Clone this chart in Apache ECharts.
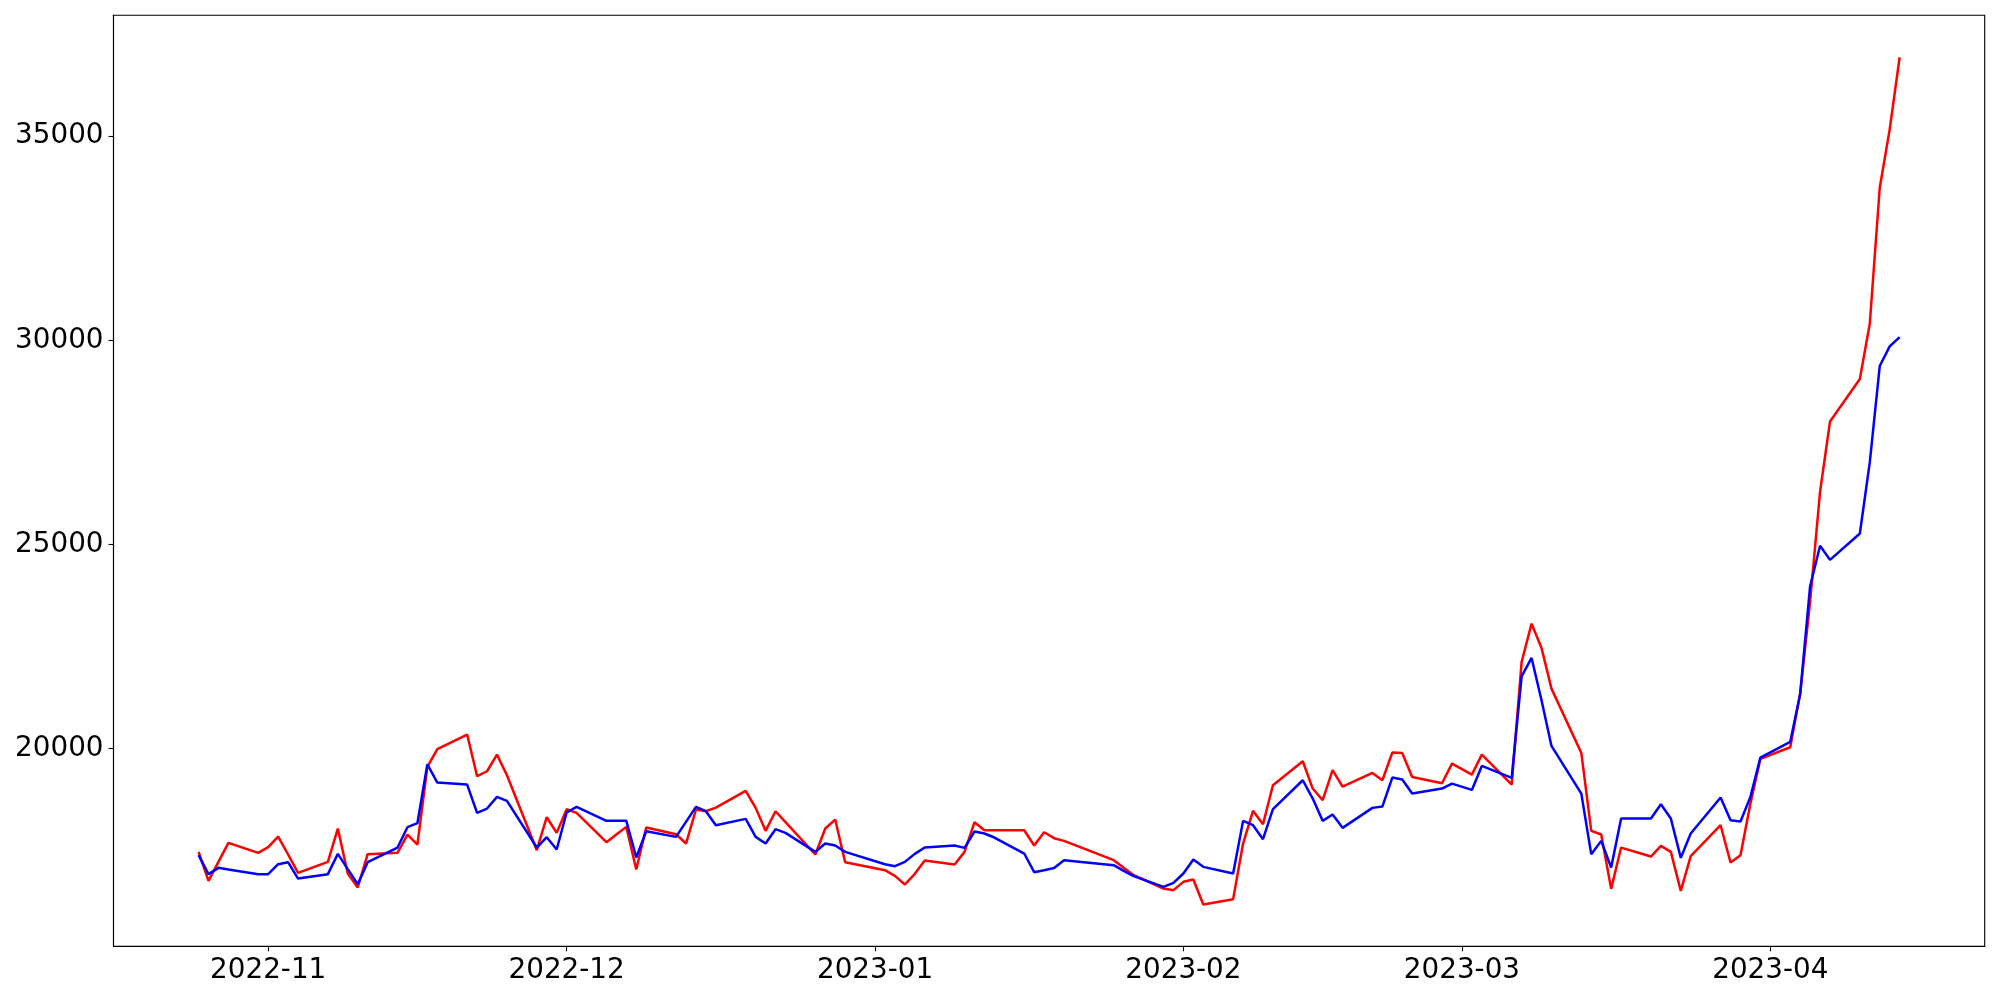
<!DOCTYPE html>
<html>
<head>
<meta charset="utf-8">
<script src="https://cdn.jsdelivr.net/npm/echarts@6/dist/echarts.min.js"></script>
<style>
html,body{margin:0;padding:0;background:#fff;}
#chart{width:2000px;height:1000px;}
</style>
</head>
<body>
<div id="chart"></div>
<script>
// Trading dates (Oct 25, 2022 – Apr 14, 2023)
const dates = [
  '2022-10-25','2022-10-26','2022-10-27','2022-10-28','2022-10-31',
  '2022-11-01','2022-11-02','2022-11-03','2022-11-04','2022-11-07','2022-11-08','2022-11-09','2022-11-10','2022-11-11',
  '2022-11-14','2022-11-15','2022-11-16','2022-11-17','2022-11-18','2022-11-21','2022-11-22','2022-11-23','2022-11-24','2022-11-25',
  '2022-11-28','2022-11-29','2022-11-30',
  '2022-12-01','2022-12-02','2022-12-05','2022-12-06','2022-12-07','2022-12-08','2022-12-09','2022-12-12','2022-12-13','2022-12-14',
  '2022-12-15','2022-12-16','2022-12-19','2022-12-20','2022-12-21','2022-12-22','2022-12-23','2022-12-26','2022-12-27','2022-12-28','2022-12-29',
  '2023-01-02','2023-01-03','2023-01-04','2023-01-05','2023-01-06','2023-01-09','2023-01-10','2023-01-11','2023-01-12','2023-01-13',
  '2023-01-16','2023-01-17','2023-01-18','2023-01-19','2023-01-20','2023-01-25','2023-01-26','2023-01-27','2023-01-30','2023-01-31',
  '2023-02-01','2023-02-02','2023-02-03','2023-02-06','2023-02-07','2023-02-08','2023-02-09','2023-02-10','2023-02-13','2023-02-14',
  '2023-02-15','2023-02-16','2023-02-17','2023-02-20','2023-02-21','2023-02-22','2023-02-23','2023-02-24','2023-02-27','2023-02-28',
  '2023-03-02','2023-03-03','2023-03-06','2023-03-07','2023-03-08','2023-03-09','2023-03-10','2023-03-13','2023-03-14','2023-03-15',
  '2023-03-16','2023-03-17','2023-03-20','2023-03-21','2023-03-22','2023-03-23','2023-03-24','2023-03-27','2023-03-28','2023-03-29',
  '2023-03-30','2023-03-31',
  '2023-04-03','2023-04-04','2023-04-05','2023-04-06','2023-04-07','2023-04-10','2023-04-11','2023-04-12','2023-04-13','2023-04-14'
];

const redValues = [
  17475,16765,17230,17695,17451,
  17589,17850,17410,16961,17230,18046,16945,16602,17418,
  17451,17899,17655,19555,19988,20347,19327,19449,19857,19351,
  17516,18323,17940,
  18519,18430,17712,17899,18087,17043,18071,17907,17679,18511,
  18470,18560,18968,18552,17989,18470,18205,17410,18046,18266,17222,
  17026,16888,16676,16937,17263,17165,17475,18201,18005,18005,
  18005,17630,17956,17810,17744,17271,17084,16904,16578,16537,
  16741,16798,16186,16317,17679,18479,18152,19107,19694,19025,
  18740,19474,19070,19408,19229,19906,19898,19310,19155,19637,
  19367,19857,19123,22125,23063,22467,21472,19898,17989,17899,
  16569,17580,17360,17621,17475,16520,17369,18127,17214,17393,
  18658,19751,
  20036,21350,23600,26294,28014,29056,30414,33737,35167,36933
];

const blueValues = [
  17394,16929,17084,17043,16929,
  16929,17173,17222,16822,16929,17426,17051,16684,17222,
  17581,18079,18177,19621,19172,19123,18430,18536,18821,18723,
  17581,17834,17532,
  18438,18576,18234,18234,18234,17336,17981,17842,18209,18576,
  18470,18128,18283,17842,17679,18030,17940,17475,17679,17630,17475,
  17173,17124,17230,17426,17581,17630,17573,17973,17924,17826,
  17434,16978,17027,17080,17271,17149,17010,16880,16619,16716,
  16945,17287,17108,16945,18234,18128,17785,18519,19229,18780,
  18234,18389,18063,18552,18584,19294,19245,18902,19025,19147,
  18992,19580,19286,21774,22223,21187,20069,18902,17418,17744,
  17091,18291,18291,18641,18291,17328,17923,18805,18250,18217,
  18821,19783,
  20167,21340,23980,24970,24625,25270,27018,29372,29852,30079
];

const yTicks = [20000, 25000, 30000, 35000];
const xTickLabels = ['2022-11-01','2022-12-01','2023-01-01','2023-02-01','2023-03-01','2023-04-01'];

const DAY = 86400000;
function t(s){ const p = s.split('-').map(Number); return Date.UTC(p[0], p[1]-1, p[2]); }

const xMin = t(dates[0]) - 8.55 * DAY;
const xMax = t(dates[dates.length-1]) + 8.55 * DAY;
const xTickValues = xTickLabels.map(t);

const redData = dates.map((d,i) => [t(d), redValues[i]]);
const blueData = dates.map((d,i) => [t(d), blueValues[i]]);

const chart = echarts.init(document.getElementById('chart'), null, {renderer:'canvas'});
const font = 'DejaVu Sans';
chart.setOption({
  animation: false,
  backgroundColor: '#ffffff',
  grid: {left: 113.5, right: 15.3, top: 15.3, bottom: 53.6, show: true, borderColor: '#000', borderWidth: 1.1, backgroundColor: 'transparent'},
  xAxis: {
    type: 'value',
    min: xMin, max: xMax,
    scale: true,
    splitLine: {show: false},
    axisLine: {show: true, onZero: false, lineStyle: {color: '#000', width: 1.1}},
    axisTick: {show: true, length: 4.9, lineStyle: {color: '#000', width: 1.1}, customValues: xTickValues},
    axisLabel: {
      customValues: xTickValues,
      margin: 10,
      color: '#000', fontFamily: font, fontSize: 27.8,
      formatter: function(v){ const d = new Date(v); const m = d.getUTCMonth()+1; return d.getUTCFullYear() + '-' + (m < 10 ? '0' + m : m); }
    }
  },
  yAxis: {
    type: 'value',
    min: 15160, max: 37960,
    splitLine: {show: false},
    axisLine: {show: true, onZero: false, lineStyle: {color: '#000', width: 1.1}},
    axisTick: {show: true, length: 4.9, lineStyle: {color: '#000', width: 1.1}, customValues: yTicks},
    axisLabel: {customValues: yTicks, margin: 10, color: '#000', fontFamily: font, fontSize: 27.8, formatter: v => String(v)}
  },
  series: [
    {type: 'line', data: redData, showSymbol: false, lineStyle: {color: '#ff0000', width: 2.5}, itemStyle: {color: '#ff0000'}},
    {type: 'line', data: blueData, showSymbol: false, lineStyle: {color: '#0000ff', width: 2.5}, itemStyle: {color: '#0000ff'}}
  ]
});
</script>
</body>
</html>
